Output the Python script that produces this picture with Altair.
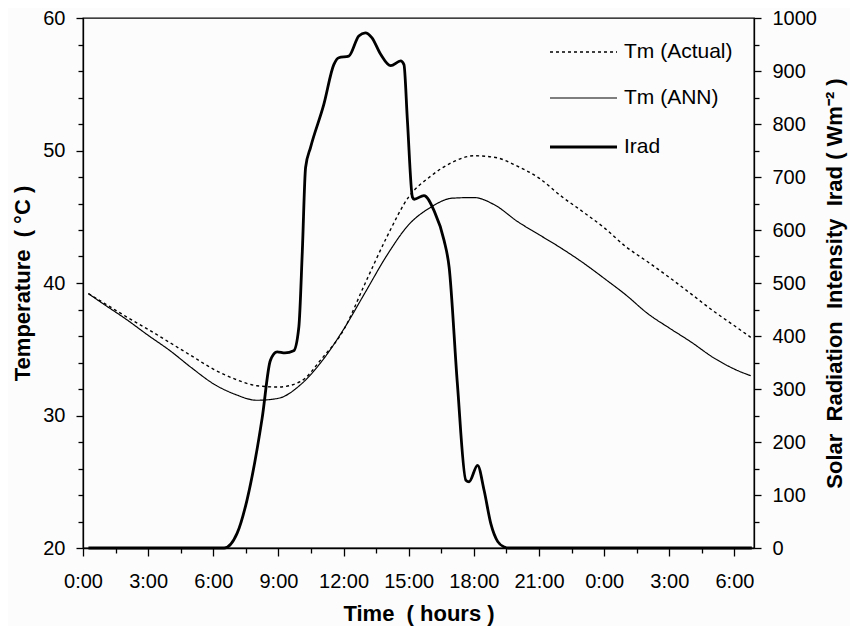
import altair as alt
import pandas as pd

# ---------------- data ----------------
# time in hours since 0:00 of the first day
T_TEMP = [0.25, 1, 2, 3, 4, 5, 6, 7, 8, 9, 10, 11, 12, 13, 14, 15, 16, 17, 18, 19,
          20, 21, 22, 23, 24, 25, 26, 27, 28, 29, 30, 30.75]
TM_ACTUAL = [39.2, 38.45, 37.45, 36.5, 35.5, 34.5, 33.5, 32.75, 32.25, 32.15, 32.55, 34.3,
             36.45, 40.0, 43.5, 46.5, 48.05, 49.1, 49.6, 49.47, 48.82, 47.92, 46.58, 45.4,
             44.17, 42.74, 41.6, 40.42, 39.18, 37.92, 36.77, 35.9]
TM_ANN = [39.2, 38.35, 37.25, 36.05, 34.9, 33.6, 32.4, 31.6, 31.15, 31.3, 32.3, 34.1,
          36.5, 39.3, 42.1, 44.4, 45.7, 46.4, 46.45, 45.85, 44.65, 43.65, 42.65, 41.56,
          40.35, 39.1, 37.7, 36.6, 35.55, 34.4, 33.5, 33.0]

T_IRAD = [0.25, 6.5, 7.1, 7.55, 8.25, 8.63, 8.94, 9.3, 9.7, 9.94, 10.1, 10.25, 10.48, 11.09,
          11.55, 11.78, 12.24, 12.7, 13.0, 13.3, 13.7, 14.17, 14.63, 14.78, 14.94, 15.17,
          15.25, 15.7, 16.17, 16.63, 16.86, 17.24, 17.63, 17.78, 18.17, 18.47, 18.78, 19.1,
          19.4, 19.6, 30.8]
IRAD = [0, 0, 28, 90, 245, 354, 370, 368, 372, 417, 560, 718, 756, 837,
        912, 925, 928, 966, 972, 963, 932, 910, 919, 912, 806, 662,
        658, 665, 636, 580, 530, 310, 128, 125, 156, 109, 46, 12,
        2, 0, 0]

SERIES = ["Tm (Actual)", "Tm (ANN)"]
LEGEND_LABELS = ["Tm (Actual)", "Tm (ANN)", "Irad"]

X_TICKS = [i * 1.5 for i in range(21)]          # 0 .. 30 h
Y_TICKS = list(range(20, 61, 2))
Y2_TICKS = list(range(0, 1001, 50))

NB = "\u00a0"
X_TITLE = "Time" + NB + NB + "(" + NB + "hours" + NB + ")"
Y_TITLE = "Temperature" + NB + NB + "(" + NB + "°C" + NB + ")"
Y2_TITLE = ("Solar" + NB + NB + "Radiation" + NB + NB + "Intensity" + NB + NB + "Irad"
            + NB + "(" + NB + "Wm⁻²" + NB + ")")

# ---------------- style ----------------
FONT = "Liberation Sans"
LABEL_SIZE = 20
TITLE_SIZE = 22
LEGEND_SIZE = 21
W, H = 671, 530

temp_df = pd.DataFrame({
    "t": T_TEMP + T_TEMP,
    "temp": TM_ACTUAL + TM_ANN,
    "series": [SERIES[0]] * len(T_TEMP) + [SERIES[1]] * len(T_TEMP),
})
irad_df = pd.DataFrame({"t": T_IRAD, "irad": IRAD})

x_axis = alt.Axis(
    values=X_TICKS,
    labelExpr="datum.value % 3 === 0 ? (datum.value % 24) + ':00' : ''",
    title=X_TITLE,
    tickSize={"condition": {"test": "datum.value % 3 === 0", "value": 8}, "value": 5},
    labelOverlap=False, labelFlush=False, labelPadding=15, titlePadding=12,
    grid=False,
)
x_enc = alt.X("t:Q", scale=alt.Scale(domain=[0, 30.9], nice=False, zero=False), axis=x_axis)

temp = alt.Chart(temp_df).mark_line(color="black", interpolate="monotone").encode(
    x=x_enc,
    y=alt.Y("temp:Q", scale=alt.Scale(domain=[20, 60], nice=False, zero=False),
            axis=alt.Axis(values=Y_TICKS,
                          labelExpr="datum.value % 10 === 0 ? datum.label : ''",
                          tickSize={"condition": {"test": "datum.value % 10 === 0", "value": 7}, "value": 5},
                          labelOverlap=False, labelPadding=11, titlePadding=8,
                          title=Y_TITLE, grid=False)),
    strokeDash=alt.StrokeDash("series:N", scale=alt.Scale(domain=SERIES, range=[[3, 3], [1, 0]]), legend=None),
    strokeWidth=alt.StrokeWidth("series:N", scale=alt.Scale(domain=SERIES, range=[1.4, 1.2]), legend=None),
    detail="series:N",
)

irad = alt.Chart(irad_df).mark_line(color="black", strokeWidth=2.8, interpolate="monotone").encode(
    x=x_enc,
    y=alt.Y("irad:Q", scale=alt.Scale(domain=[0, 1000], nice=False, zero=True),
            axis=alt.Axis(orient="right", values=Y2_TICKS,
                          labelExpr="datum.value % 100 === 0 ? '' + datum.value : ''",
                          tickSize={"condition": {"test": "datum.value % 100 === 0", "value": 7}, "value": 5},
                          labelOverlap=False, labelPadding=11, titlePadding=30, titleAngle=270,
                          title=Y2_TITLE, grid=False)),
)

# manual legend (pixel positions inside the plot area)
LEG_X1, LEG_X2, LEG_TX = 467, 534, 541
LEG_Y = [34, 80, 129]
LEG_DASH = [[3, 3], [1, 0], [1, 0]]
LEG_W = [1.4, 1.2, 2.8]

legend_layers = []
for i, lab in enumerate(LEGEND_LABELS):
    ldf = pd.DataFrame({"label": [lab]})
    legend_layers.append(
        alt.Chart(ldf).mark_rule(color="black", strokeWidth=LEG_W[i], strokeDash=LEG_DASH[i]).encode(
            x=alt.value(LEG_X1), x2=alt.value(LEG_X2), y=alt.value(LEG_Y[i]))
    )
    legend_layers.append(
        alt.Chart(ldf).mark_text(align="left", baseline="middle", font=FONT,
                                 fontSize=LEGEND_SIZE, color="black").encode(
            x=alt.value(LEG_TX), y=alt.value(LEG_Y[i]), text="label:N")
    )

chart = alt.layer(temp, irad, *legend_layers).resolve_scale(y="independent").properties(
    width=W, height=H,
    autosize=alt.AutoSizeParams(type="none"),
    padding={"left": 75, "top": 10, "right": 96, "bottom": 78},
    background="#fcfcfc",
).configure_view(stroke="black", strokeWidth=1.3).configure_axis(
    domainColor="black", domainWidth=1.3, tickColor="black", tickWidth=1.3,
    labelColor="black", titleColor="black",
    labelFont=FONT, titleFont=FONT, labelFontSize=LABEL_SIZE, titleFontSize=TITLE_SIZE,
    titleFontWeight="bold",
)

chart.save("out.html", embed_options={"renderer": "svg", "actions": False})
